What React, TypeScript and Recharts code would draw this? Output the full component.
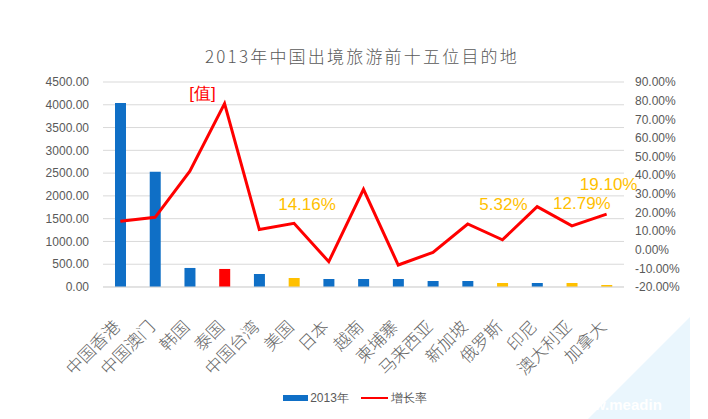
import React from "react";
import {
  ComposedChart,
  Bar,
  Line,
  Cell,
  XAxis,
  YAxis,
  CartesianGrid,
  Legend,
  LabelList,
} from "recharts";

const destinations = [
  "中国香港", "中国澳门", "韩国", "泰国", "中国台湾", "美国", "日本", "越南",
  "柬埔寨", "马来西亚", "新加坡", "俄罗斯", "印尼", "澳大利亚", "加拿大",
];
const visitors2013 = [4040, 2530, 418, 396, 286, 198, 176, 176, 176, 132, 132, 88, 88, 88, 44];
const growthRate = [15.3, 17.4, 42.2, 78.4, 10.8, 14.16, -6.4, 32.4, -8.2, -1.4, 13.8, 5.32, 23.1, 12.79, 19.1];
const pointLabels = ["", "", "", "[值]", "", "14.16%", "", "", "", "", "", "5.32%", "", "12.79%", "19.10%"];

const leftTicks = [0, 500, 1000, 1500, 2000, 2500, 3000, 3500, 4000, 4500];
const rightTicks = [-20, -10, 0, 10, 20, 30, 40, 50, 60, 70, 80, 90];

const redBars = ["泰国"];
const goldBars = ["美国", "俄罗斯", "澳大利亚", "加拿大"];

const BLUE = "#0f6fc6";
const RED = "#ff0000";
const GOLD = "#ffc000";
const TEXT = "#595959";
const AXIS_FONT = "'Liberation Sans', Arial, sans-serif";

const data = destinations.map((name, i) => ({
  name,
  visitors: visitors2013[i],
  growth: growthRate[i],
  label: pointLabels[i],
}));

// label nudges relative to the line point
const labelOffset: Record<string, [number, number]> = {
  "[值]": [-22, -11],
  "14.16%": [13, -19],
  "5.32%": [1, -36],
  "12.79%": [10, -23],
  "19.10%": [2, -30],
};

const XTick = (props: any) => {
  const { x, y, payload } = props;
  return (
    <g transform={`translate(${x + 1},${y + 33})`}>
      <text
        textAnchor="end"
        transform="rotate(-45)"
        fill="#666"
        fontSize={17}
        fontFamily="'Noto Sans CJK SC', sans-serif"
        fontWeight={300}
      >
        {payload.value}
      </text>
    </g>
  );
};

const PointLabel = (props: any) => {
  const { x, y, value } = props;
  if (!value) return null;
  const [dx, dy] = labelOffset[value] ?? [0, -20];
  return (
    <text
      x={x + dx}
      y={y + dy}
      dy={6}
      textAnchor="middle"
      fill={value === "[值]" ? RED : GOLD}
      fontSize={17}
      fontFamily={AXIS_FONT}
    >
      {value}
    </text>
  );
};

const LegendContent = () => (
  <div
    style={{
      display: "flex",
      justifyContent: "center",
      alignItems: "center",
      height: 20,
      fontSize: 12,
      color: TEXT,
      fontFamily: AXIS_FONT,
      paddingLeft: 22,
    }}
  >
    <span style={{ display: "inline-block", width: 25, height: 6, background: BLUE, marginRight: 2 }} />
    <span style={{ marginRight: 12 }}>2013年</span>
    <span style={{ display: "inline-block", width: 27, height: 2, background: RED, marginRight: 3 }} />
    <span>增长率</span>
  </div>
);

export default function App() {
  return (
    <div style={{ position: "absolute", left: 0, top: 0, width: 708, height: 419, background: "#fff", overflow: "hidden" }}>
      <div
        style={{
          position: "absolute",
          left: 588,
          top: 317,
          width: 102,
          height: 102,
          background: "#eaf6fd",
          clipPath: "polygon(100% 0, 100% 100%, 0 100%)",
        }}
      />
      <div
        style={{
          position: "absolute",
          left: 594,
          top: 396,
          fontSize: 15,
          fontWeight: 700,
          color: "#fff",
          fontFamily: AXIS_FONT,
        }}
      >
        w.meadin
      </div>
      <div
        style={{
          position: "absolute",
          left: 0,
          top: 43,
          width: 724,
          textAlign: "center",
          fontSize: 17,
          letterSpacing: 2.2,
          color: TEXT,
          fontFamily: "'Noto Sans CJK SC', sans-serif",
          fontWeight: 300,
        }}
      >
        2013年中国出境旅游前十五位目的地
      </div>
      <ComposedChart
        width={708}
        height={419}
        data={data}
        margin={{ top: 82, right: 20, bottom: 11, left: 0 }}
        style={{ position: "absolute", left: 0, top: 0 }}
      >
        <CartesianGrid yAxisId="left" vertical={false} stroke="#d9d9d9" />
        <XAxis
          dataKey="name"
          interval={0}
          height={101}
          tickLine={false}
          axisLine={{ stroke: "#d9d9d9" }}
          tick={<XTick />}
        />
        <YAxis
          yAxisId="left"
          width={103}
          domain={[0, 4500]}
          ticks={leftTicks}
          interval={0}
          tickFormatter={(v: number) => v.toFixed(2)}
          axisLine={false}
          tickLine={false}
          tickMargin={8}
          tick={{ fill: TEXT, fontSize: 12, fontFamily: AXIS_FONT }}
        />
        <YAxis
          yAxisId="right"
          orientation="right"
          width={64}
          domain={[-20, 90]}
          ticks={rightTicks}
          interval={0}
          tickFormatter={(v: number) => `${v.toFixed(2)}%`}
          axisLine={false}
          tickLine={false}
          tickMargin={5}
          tick={{ fill: TEXT, fontSize: 12, fontFamily: AXIS_FONT, textAnchor: "start" }}
        />
        <Legend verticalAlign="bottom" content={<LegendContent />} />
        <Bar yAxisId="left" dataKey="visitors" name="2013年" barSize={11} fill={BLUE} isAnimationActive={false}>
          {data.map((d) => (
            <Cell
              key={d.name}
              fill={redBars.includes(d.name) ? RED : goldBars.includes(d.name) ? GOLD : BLUE}
            />
          ))}
        </Bar>
        <Line
          yAxisId="right"
          type="linear"
          dataKey="growth"
          name="增长率"
          stroke={RED}
          strokeWidth={3}
          dot={false}
          activeDot={false}
          isAnimationActive={false}
        >
          <LabelList dataKey="label" content={<PointLabel />} />
        </Line>
      </ComposedChart>
    </div>
  );
}
